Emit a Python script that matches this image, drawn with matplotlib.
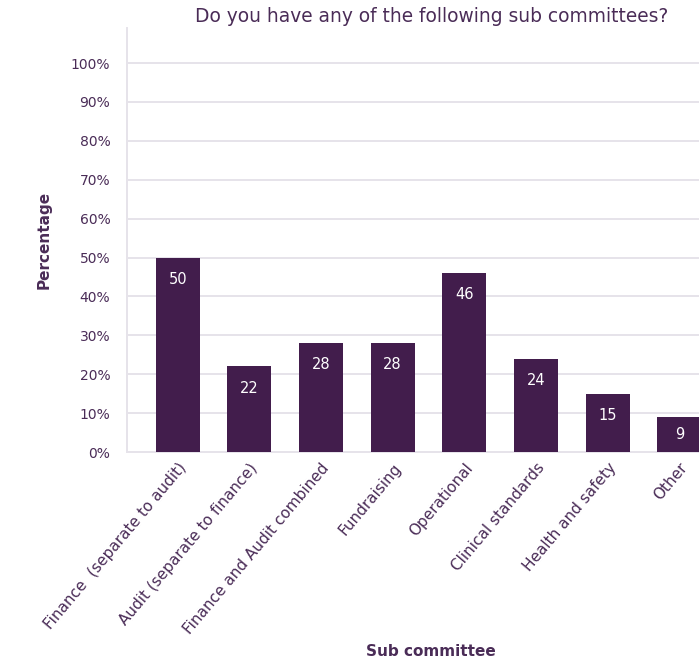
import numpy as np
import matplotlib
matplotlib.use('Agg')
import matplotlib.pyplot as plt

# Sub committee survey results (percentage of respondents)
committees = ['Finance  (separate to audit)', 'Audit (separate to finance)',
              'Finance and Audit combined', 'Fundraising', 'Operational',
              'Clinical standards', 'Health and safety', 'Other']
percent = [50, 22, 28, 28, 46, 24, 15, 9]
yticks = [0, 10, 20, 30, 40, 50, 60, 70, 80, 90, 100]

bar_color = '#421d4c'
text_color = '#4a2c57'
grid_color = '#e6e3ea'

plt.rcParams['font.family'] = ['DejaVu Sans']

fig = plt.figure('Sub committees', (6.99, 6.61), dpi=100)
ax = fig.add_axes([127/699, 1 - 452/661, (730 - 127)/699, (452 - 28)/661])

x = np.arange(len(committees))
ax.bar(x, percent, width=0.615, color=bar_color, zorder=3)

for xi, v in zip(x, percent):
    ax.text(xi, max(v - 5.6, v/2), '%d' % v, ha='center', va='center',
            color='white', fontsize=10.5, zorder=4)

ax.set_xlim(-0.707, len(committees) - 1 + 0.707)
ax.set_ylim(0, 109)
ax.set_yticks(yticks)
ax.set_yticklabels(['%d%%' % t for t in yticks])
ax.set_xticks(x)
ax.set_xticklabels(committees, rotation=50, ha='right', rotation_mode='anchor',
                   fontsize=11)

ax.grid(True, axis='y', color=grid_color, linewidth=1.4, zorder=0)
for s in ['top', 'right']:
    ax.spines[s].set_visible(False)
ax.spines['left'].set_color(grid_color)
ax.spines['bottom'].set_color(grid_color)
ax.spines['left'].set_linewidth(1.4)
ax.spines['bottom'].set_linewidth(1.4)
ax.tick_params(length=0, colors=text_color)
ax.tick_params(axis='y', pad=12, labelsize=10)
ax.tick_params(axis='x', pad=6)

ax.set_ylabel('Percentage', fontsize=11, fontweight='bold', color=text_color, labelpad=14)
ax.set_xlabel('Sub committee', fontsize=11, fontweight='bold', color=text_color,
              va='center')
ax.xaxis.set_label_coords((431 - 127)/(730 - 127), -(651 - 452)/(452 - 28))

fig.text(432/699, 1 - 17/661, 'Do you have any of the following sub committees?',
         ha='center', va='center', fontsize=13.4, color=text_color)

fig.savefig('out.png', dpi=100)
